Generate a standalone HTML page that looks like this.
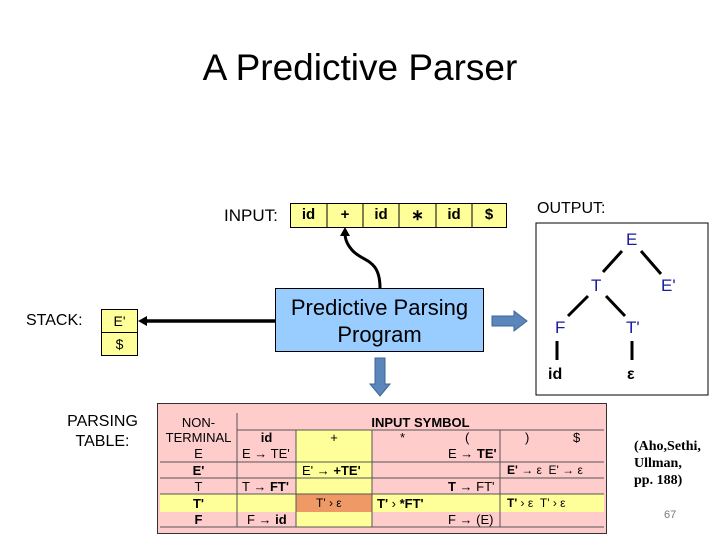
<html><head><style>
body{margin:0;width:720px;height:540px;background:#fff;position:relative;overflow:hidden;font-family:"Liberation Sans",sans-serif}
.a{position:absolute}
.cell{position:absolute;border:1px solid #000;background:#ffff99;text-align:center;font-size:15px}
.t{position:absolute;font-size:13px;white-space:nowrap}
.n{color:#1a1aa0;font-size:17px;position:absolute}
</style></head><body>
<div class="a" style="left:0;width:720px;top:47px;text-align:center;font-size:37px">A Predictive Parser</div>
<div class="a" style="left:224px;top:206px;font-size:17px">INPUT:</div>
<div class="cell" style="left:290px;top:203px;width:215px;height:23px"></div>
<div class="t" style="left:290px;top:206px;width:37px;text-align:center;font-size:15px;font-weight:bold">id</div>
<div class="t" style="left:327px;top:206px;width:36px;text-align:center;font-size:15px;font-weight:bold">+</div>
<div class="t" style="left:363px;top:206px;width:36px;text-align:center;font-size:15px;font-weight:bold">id</div>
<div class="t" style="left:399px;top:206px;width:37px;text-align:center;font-size:15px;font-weight:bold">∗</div>
<div class="t" style="left:436px;top:206px;width:36px;text-align:center;font-size:15px;font-weight:bold">id</div>
<div class="t" style="left:472px;top:206px;width:34px;text-align:center;font-size:15px;font-weight:bold">$</div>
<svg class="a" style="left:0;top:0" width="720" height="540">
<g stroke="#000" stroke-width="1"><line x1="327" y1="203" x2="327" y2="227"/><line x1="363" y1="203" x2="363" y2="227"/><line x1="399" y1="203" x2="399" y2="227"/><line x1="436" y1="203" x2="436" y2="227"/><line x1="472" y1="203" x2="472" y2="227"/></g>
<path d="M380 288 C380 258 362 262 352 250 C346 243 345 238 345 232" stroke="#000" stroke-width="3" fill="none"/>
<polygon points="345,227 340,236 350,236" fill="#000"/>
<line x1="275" y1="321" x2="144" y2="321" stroke="#000" stroke-width="3.5"/>
<polygon points="138,321 147,316 147,326" fill="#000"/>
<rect x="536" y="223" width="172" height="172" fill="none" stroke="#000"/>
<g stroke="#000" stroke-width="3"><line x1="622" y1="251" x2="603" y2="272"/><line x1="641" y1="251" x2="661" y2="274"/><line x1="588" y1="296" x2="568" y2="316"/><line x1="606" y1="296" x2="625" y2="316"/><line x1="557" y1="341" x2="557" y2="360"/><line x1="632" y1="341" x2="632" y2="360"/></g>
<path d="M492 316 H514 V311 L527 321 L514 331 V326 H492Z" fill="#5b86bb" stroke="#3d6699"/>
<path d="M375 358 V384 H370 L380 396 L390 384 H385 V358Z" fill="#5b86bb" stroke="#3d6699"/>
</svg>
<div class="a" style="left:537px;top:200px;font-size:16px">OUTPUT:</div>
<div class="n" style="left:626px;top:230px">E</div>
<div class="n" style="left:591px;top:276px">T</div>
<div class="n" style="left:661px;top:276px">E'</div>
<div class="n" style="left:555px;top:318px">F</div>
<div class="n" style="left:626px;top:318px">T'</div>
<div class="a" style="left:548px;top:366px;font-size:16px;font-weight:bold">id</div>
<div class="a" style="left:627px;top:366px;font-size:16px;font-weight:bold">ε</div>
<div class="a" style="left:275px;top:288px;width:209px;height:64px;background:#99ccff;border:1px solid #000;text-align:center;font-size:22px;line-height:27px;padding-top:5px;box-sizing:border-box">Predictive Parsing<br>Program</div>
<div class="a" style="left:26px;top:312px;font-size:16px">STACK:</div>
<div class="cell" style="left:101px;top:309px;width:35px;height:22px;font-size:14px;line-height:22px">E'</div>
<div class="cell" style="left:101px;top:332px;width:35px;height:22px;font-size:14px;line-height:22px">$</div>
<div class="a" style="left:55px;top:412px;width:95px;text-align:center;font-size:16px;line-height:20px">PARSING<br>TABLE:</div>
<div class="a" style="left:157px;top:403px;width:448px;height:129px;background:#ffcccc;border:1px solid #333"></div>
<div class="a" style="left:296px;top:430px;width:76px;height:97px;background:#ffff99"></div>
<div class="a" style="left:160px;top:494px;width:444px;height:18px;background:#ffff99"></div>
<div class="a" style="left:296px;top:494px;width:76px;height:18px;background:#ee9966"></div>
<svg class="a" style="left:0;top:0" width="720" height="540">
<g stroke="#555" stroke-width="1" fill="none">
<line x1="237" y1="413" x2="237" y2="527"/><line x1="237" y1="430" x2="604" y2="430"/>
<line x1="296" y1="430" x2="296" y2="527"/><line x1="372" y1="430" x2="372" y2="527"/><line x1="500" y1="430" x2="500" y2="527"/>
<line x1="160" y1="462" x2="604" y2="462"/><line x1="160" y1="478" x2="604" y2="478"/><line x1="160" y1="494" x2="604" y2="494"/><line x1="160" y1="527" x2="604" y2="527"/>
</g></svg>
<div class="t" style="left:160px;top:415px;width:77px;text-align:center">NON-</div>
<div class="t" style="left:160px;top:430px;width:77px;text-align:center">TERMINAL</div>
<div class="t" style="left:160px;top:446px;width:77px;text-align:center">E</div>
<div class="t" style="left:160px;top:463px;width:77px;text-align:center;font-weight:bold">E'</div>
<div class="t" style="left:160px;top:479px;width:77px;text-align:center">T</div>
<div class="t" style="left:160px;top:496px;width:77px;text-align:center;font-weight:bold">T'</div>
<div class="t" style="left:160px;top:512px;width:77px;text-align:center;font-weight:bold">F</div>
<div class="t" style="left:237px;top:415px;width:367px;text-align:center;font-weight:bold">INPUT SYMBOL</div>
<div class="t" style="left:237px;top:430px;width:59px;text-align:center;font-weight:bold">id</div>
<div class="t" style="left:296px;top:430px;width:76px;text-align:center">+</div>
<div class="t" style="left:400px;top:430px">*</div>
<div class="t" style="left:465px;top:430px">(</div>
<div class="t" style="left:525px;top:430px">)</div>
<div class="t" style="left:573px;top:430px">$</div>
<div class="t" style="left:242px;top:446px">E → TE'</div>
<div class="t" style="left:448px;top:446px">E → <b>TE'</b></div>
<div class="t" style="left:302px;top:463px">E' → <b>+TE'</b></div>
<div class="t" style="left:507px;top:463px;font-size:12px"><b>E'</b> → ε &nbsp;E' → ε</div>
<div class="t" style="left:242px;top:479px">T → <b>FT'</b></div>
<div class="t" style="left:448px;top:479px"><b>T → </b>FT'</div>
<div class="t" style="left:316px;top:496px;font-size:12px">T' › ε</div>
<div class="t" style="left:377px;top:496px"><b>T'</b> › <b>*FT'</b></div>
<div class="t" style="left:507px;top:496px;font-size:12px"><b>T'</b> › ε &nbsp;T' › ε</div>
<div class="t" style="left:247px;top:512px">F → <b>id</b></div>
<div class="t" style="left:448px;top:512px">F → (E)</div>
<div class="a" style="left:634px;top:438px;font-family:'Liberation Serif',serif;font-size:14px;line-height:17px;font-weight:bold">(Aho,Sethi,<br>Ullman,<br>pp. 188)</div>
<div class="a" style="left:664px;top:509px;font-size:11px;color:#777">67</div>
</body></html>
